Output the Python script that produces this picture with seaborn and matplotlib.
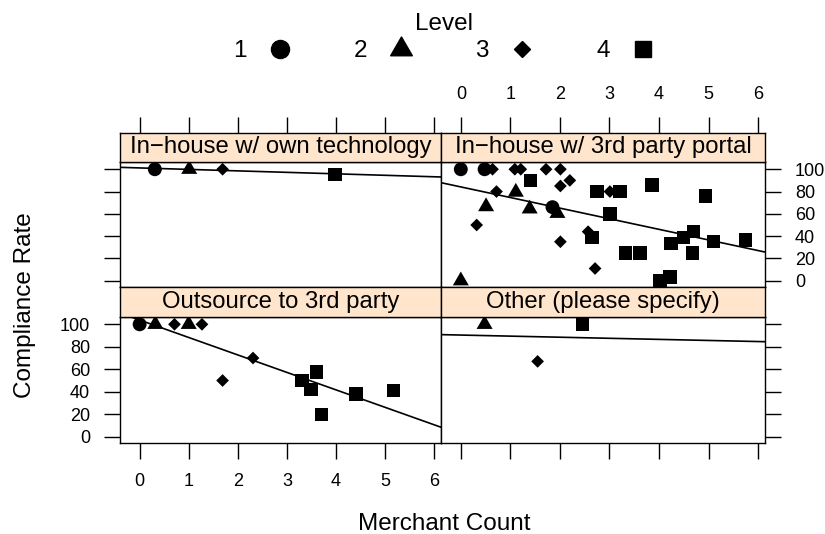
# grafico de conformidade por quantidade de comerciantes (estilo lattice)

import numpy as np
import pandas as pd
import matplotlib
matplotlib.use("Agg")
import matplotlib.pyplot as plt
import seaborn as sns
from matplotlib.lines import Line2D
from matplotlib.path import Path

sns.set_style("white")
plt.rcParams['font.family'] = ['Liberation Sans', 'DejaVu Sans']
for chave in ["text.color", "axes.labelcolor", "xtick.color", "ytick.color"]:
    plt.rcParams[chave] = "black"

# dados
paineis = ["In\u2212house w/ own technology", "In\u2212house w/ 3rd party portal",
           "Outsource to 3rd party", "Other (please specify)"]
niveis = ["1", "2", "3", "4"]

own_x = [0.31, 1.01, 1.69, 3.98]
own_y = [100, 100, 100, 95.5]
own_nivel = ["1", "2", "3", "4"]

portal_x = [0.0, 0.48, 1.85,
            1.11, 0.51, 1.39, 1.95, 0.0,
            0.64, 1.09, 1.21, 1.72, 2.01, 2.2, 2.01, 0.72, 3.01, 0.32, 2.57, 2.01, 2.71,
            1.41, 2.75, 3.21, 3.86, 4.94, 3.01, 2.65, 4.24, 4.49, 4.69, 5.1, 5.74,
            3.32, 3.62, 4.67, 4.02, 4.22]
portal_y = [100, 100, 66,
            79.5, 66.5, 64.5, 60.5, 0,
            100, 100, 100, 100, 100, 90, 85, 80, 80, 50, 44, 35, 11,
            90, 80, 80, 86, 76, 60, 39, 33.5, 38.5, 44, 35.5, 36.5,
            25, 25, 25, 0.5, 3.5]
portal_nivel = ["1"] * 3 + ["2"] * 5 + ["3"] * 13 + ["4"] * 17

out_x = [0.0, 0.32, 1.0, 0.71, 1.27, 2.31, 1.69, 3.31, 3.6, 3.49, 4.41, 5.17, 3.7]
out_y = [100, 100, 100, 100, 100, 70, 50, 50, 57.5, 41.8, 38, 41, 20]
out_nivel = ["1", "2", "2", "3", "3", "3", "3", "4", "4", "4", "4", "4", "4"]

other_x = [0.48, 1.55, 2.45]
other_y = [100, 67, 100]
other_nivel = ["2", "3", "4"]

frames = []
for nome, xs, ys, nv in zip(paineis, [own_x, portal_x, out_x, other_x],
                            [own_y, portal_y, out_y, other_y],
                            [own_nivel, portal_nivel, out_nivel, other_nivel]):
    frames.append(pd.DataFrame({"painel": nome, "x": xs, "y": ys, "Level": nv}))
df = pd.concat(frames, ignore_index=True)

# triangulo no estilo do R (pch 17)
tri = Path([(0, 1.555), (1.347, -0.778), (-1.347, -0.778), (0, 1.555)], closed=True)
marcadores = {"1": "o", "2": tri, "3": "D", "4": "s"}
tamanhos = {"1": 100, "2": 177, "3": 42, "4": 92}

W, H = 825, 534
fig = plt.figure(figsize=(W / 100, H / 100), dpi=100)


def caixa(x0, x1, y0, y1):
    return [x0 / W, 1 - y1 / H, (x1 - x0) / W, (y1 - y0) / H]


colunas = [(120, 441), (441, 765)]
linhas = [(133, 162, 287), (287, 317, 443)]
xlim = (-0.4, 6.14)
ylim = (-5.6, 106.5)
fs_tick = 13
tam_tick = 11.5
pad_tick = 10

for i, nome in enumerate(paineis):
    lin, col = divmod(i, 2)
    x0, x1 = colunas[col]
    s0, s1, p1 = linhas[lin]

    ax = fig.add_axes(caixa(x0, x1, s1, p1))
    sub = df[df["painel"] == nome]
    ax.set_xlim(xlim)
    ax.set_ylim(ylim)
    sns.scatterplot(data=sub, x="x", y="y", style="Level", markers=marcadores,
                    size="Level", sizes=tamanhos, style_order=niveis,
                    size_order=niveis, color="black", linewidth=0, legend=False, ax=ax)
    sns.regplot(data=sub, x="x", y="y", scatter=False, ci=None, truncate=False,
                line_kws=dict(color="black", lw=1.2), ax=ax)
    ax.set_xlim(xlim)
    ax.set_ylim(ylim)
    ax.set_xlabel("")
    ax.set_ylabel("")
    ax.set_xticks(range(0, 7))
    ax.set_yticks(range(0, 101, 20))
    ax.tick_params(axis="y", left=(col == 0), right=(col == 1),
                   labelleft=(col == 0 and lin == 1), labelright=(col == 1 and lin == 0),
                   direction="out", length=tam_tick, width=1, labelsize=fs_tick, pad=pad_tick)
    ax.tick_params(axis="x", bottom=(lin == 1), top=False,
                   labelbottom=(lin == 1 and col == 0), labeltop=False,
                   direction="out", length=tam_tick, width=1, labelsize=fs_tick, pad=pad_tick)
    for sp in ax.spines.values():
        sp.set_color("black")
        sp.set_linewidth(1)

    # faixa do titulo do painel
    st = fig.add_axes(caixa(x0, x1, s0, s1))
    st.set_facecolor("#ffe5cc")
    st.set_xlim(xlim)
    st.set_yticks([])
    st.set_xticks(range(0, 7))
    st.tick_params(axis="x", top=(lin == 0), bottom=False,
                   labeltop=(lin == 0 and col == 1), labelbottom=False,
                   direction="out", length=tam_tick, width=1, labelsize=fs_tick, pad=pad_tick)
    for sp in st.spines.values():
        sp.set_color("black")
        sp.set_linewidth(1)
    st.text(0.5, 0.5, nome, transform=st.transAxes, ha="center", va="center",
            fontsize=17.2)

fig.text(444 / W, 1 - 524 / H, "Merchant Count", ha="center", va="center", fontsize=17.5)
fig.text(25 / W, 1 - 305 / H, "Compliance Rate", ha="center", va="center",
         rotation=90, fontsize=17.5)

# legenda no topo
tri_leg = dict(marker=tri, markersize=18)
alcas = [Line2D([], [], linestyle="none", color="black", marker="o", markersize=13),
         Line2D([], [], linestyle="none", color="black", **tri_leg),
         Line2D([], [], linestyle="none", color="black", marker="D", markersize=8.5),
         Line2D([], [], linestyle="none", color="black", marker="s", markersize=12)]
fig.legend(alcas, niveis, title="Level", ncol=4, markerfirst=False, frameon=False,
           loc="upper center", bbox_to_anchor=(444 / W, 1 - 1 / H), borderpad=0,
           fontsize=17.5, title_fontsize=17.5, handlelength=1.0, handletextpad=0.88,
           columnspacing=2.55, labelspacing=0.2)

fig.savefig("out.png", dpi=100)
